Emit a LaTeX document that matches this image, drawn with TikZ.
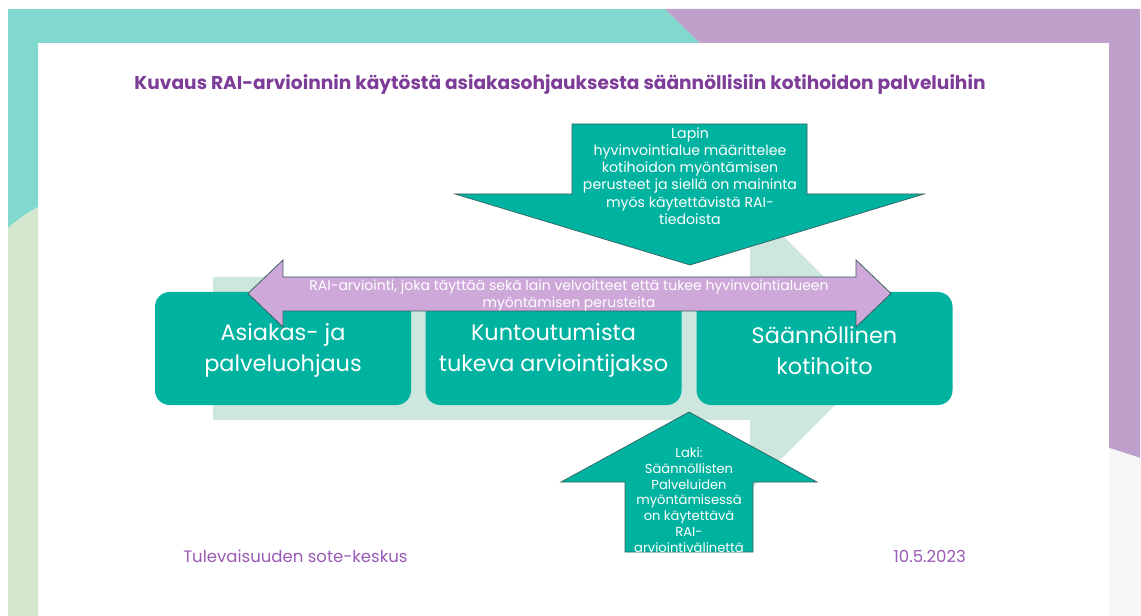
\documentclass[tikz,border=0pt]{standalone}
\usepackage{fontspec}
\setmainfont{Poppins}
\definecolor{frameteal}{RGB}{128,216,207}
\definecolor{framepurple}{RGB}{191,160,203}
\definecolor{framegreen}{RGB}{211,232,207}
\definecolor{framegray}{RGB}{246,246,246}
\definecolor{boxteal}{RGB}{0,179,160}
\definecolor{chevron}{RGB}{205,230,222}
\definecolor{arrowpurple}{RGB}{207,168,218}
\definecolor{edgegray}{RGB}{55,95,95}
\definecolor{titlepurple}{RGB}{125,60,152}
\definecolor{footpurple}{RGB}{155,89,182}
\tikzset{
  stagebox/.style={fill=boxteal, draw=none, rounded corners=11pt, minimum width=192pt, minimum height=84.75pt, text=white, align=center, inner sep=0pt, font=\fontsize{16.8}{23.25}\selectfont},
  greenarrow/.style={fill=boxteal, draw=edgegray, line width=0.5pt},
  purplearrow/.style={fill=arrowpurple, draw=edgegray, line width=0.6pt},
  smalltext/.style={text=white, align=center, inner sep=0pt},
}
\begin{document}
\begin{tikzpicture}[x=0.75pt,y=-0.75pt]
\useasboundingbox (0,0) rectangle (1141,616);
\clip (0,0) rectangle (1141,616);
\fill[white] (0,0) rectangle (1141,616);
% frame
\fill[frameteal] (8,9) -- (665,9) -- (700,43) -- (38,43) -- (38,207) .. controls (27,213) and (17,220) .. (8,228) -- cycle;
\fill[framegreen] (8,228) .. controls (17,220) and (27,213) .. (38,207) -- (38,616) -- (8,616) -- cycle;
\fill[framepurple] (665,9) -- (1140,9) -- (1140,458) -- (1109,448) -- (1109,43) -- (700,43) -- cycle;
\fill[framegray] (1109,448) -- (1140,458) -- (1140,616) -- (1109,616) -- cycle;
% title
\node[text=titlepurple, font=\fontsize{13.95}{16}\selectfont\bfseries, inner sep=0pt] (title) at (560,85) {Kuvaus RAI-arvioinnin käytöstä asiakasohjauksesta säännöllisiin kotihoidon palveluihin};
% background chevron
\fill[chevron] (213,277) -- (750,277) -- (750,203) -- (893.5,346.5) -- (750,490) -- (750,420) -- (213,420) -- cycle;
% stage boxes
\node[stagebox] (b1) at (283,348.5) {};
\node[stagebox] (b2) at (553.5,348.5) {};
\node[stagebox] (b3) at (824.5,348.5) {};
\node[smalltext, font=\fontsize{16.8}{23.25}\selectfont] (t1) at (283,350.5) {Asiakas- ja\\palveluohjaus};
\node[smalltext, font=\fontsize{16.8}{23.25}\selectfont] (t2) at (553.5,350.5) {Kuntoutumista\\tukeva arviointijakso};
\node[smalltext, font=\fontsize{16.8}{23.25}\selectfont] (t3) at (824.5,350.5) {Säännöllinen\\kotihoito};
% top arrow
\draw[greenarrow] (572,124) -- (807,124) -- (807,194) -- (924,194) -- (690,265) -- (455,194) -- (572,194) -- cycle;
\node[smalltext, font=\fontsize{10.6}{12.9}\selectfont] (toptext) at (690,176) {Lapin\\hyvinvointialue määrittelee\\kotihoidon myöntämisen\\perusteet ja siellä on maininta\\myös käytettävistä RAI-\\tiedoista};
% double arrow
\draw[purplearrow] (248,293.5) -- (283,260) -- (283,277) -- (856,277) -- (856,260) -- (891,293.5) -- (856,327) -- (856,311) -- (283,311) -- (283,327) -- cycle;
\node[smalltext, font=\fontsize{10.5}{12.75}\selectfont] (midtext) at (569,295) {RAI-arviointi, joka täyttää sekä lain velvoitteet että tukee hyvinvointialueen\\myöntämisen perusteita};
% bottom arrow
\draw[greenarrow] (689,412) -- (817,482) -- (753,482) -- (753,552) -- (625,552) -- (625,482) -- (561,482) -- cycle;
\begin{scope}
\clip (689,412) -- (817,482) -- (753,482) -- (753,552) -- (625,552) -- (625,482) -- (561,482) -- cycle;
\node[smalltext, font=\fontsize{9.8}{11.8}\selectfont] (bottext) at (689,500) {Laki:\\Säännöllisten\\Palveluiden\\myöntämisessä\\on käytettävä\\RAI-\\arviointivälinettä};
\end{scope}
% footer
\node[text=footpurple, anchor=west, font=\fontsize{12.4}{14}\selectfont, inner sep=0pt] (foot1) at (183,556) {Tulevaisuuden sote-keskus};
\node[text=footpurple, anchor=east, font=\fontsize{12.4}{14}\selectfont, inner sep=0pt] (foot2) at (966,556) {10.5.2023};
\end{tikzpicture}
\end{document}
